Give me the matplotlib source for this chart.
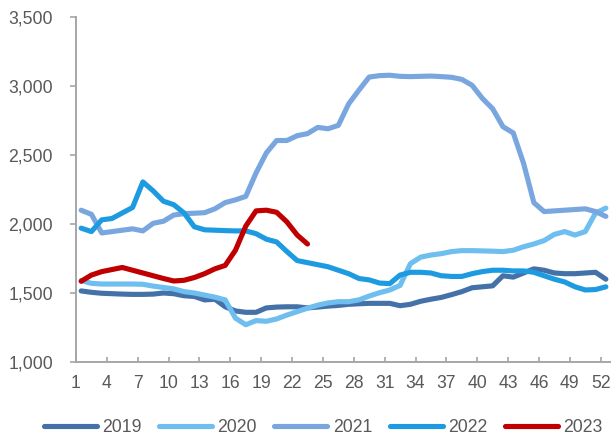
import numpy as np
import matplotlib
matplotlib.use('Agg')
import matplotlib.pyplot as plt

plt.rcParams['font.family'] = ['Liberation Sans', 'DejaVu Sans']

weeks = np.arange(1, 53)

y2019 = [1515, 1505, 1498, 1495, 1492, 1490, 1490, 1492, 1500, 1495,
         1480, 1475, 1450, 1455, 1400, 1370, 1360, 1360, 1392, 1398,
         1400, 1400, 1392, 1398, 1405, 1410, 1418, 1422, 1425, 1425,
         1425, 1408, 1418, 1440, 1455, 1468, 1488, 1510, 1538, 1545,
         1552, 1625, 1615, 1645, 1675, 1665, 1645, 1640, 1640, 1645,
         1650, 1600]
y2020 = [1590, 1570, 1565, 1565, 1565, 1565, 1563, 1550, 1540, 1530,
         1510, 1500, 1485, 1470, 1450, 1318, 1270, 1300, 1295, 1312,
         1340, 1365, 1390, 1412, 1428, 1437, 1437, 1450, 1478, 1502,
         1522, 1555, 1712, 1760, 1775, 1785, 1800, 1807, 1807, 1805,
         1803, 1800, 1810, 1835, 1855, 1880, 1925, 1945, 1920, 1945,
         2080, 2115]
y2021 = [2100, 2070, 1935, 1945, 1955, 1965, 1950, 2005, 2020, 2065,
         2075, 2078, 2082, 2110, 2155, 2175, 2200, 2370, 2515, 2605,
         2605, 2640, 2655, 2700, 2690, 2715, 2870, 2970, 3065, 3075,
         3078, 3070, 3068, 3070, 3072, 3068, 3063, 3048, 3005, 2910,
         2835, 2705, 2660, 2440, 2155, 2090, 2095, 2100, 2105, 2110,
         2090, 2055]
y2022 = [1970, 1945, 2030, 2040, 2080, 2120, 2305, 2240, 2165, 2140,
         2080, 1980, 1958, 1955, 1952, 1950, 1950, 1930, 1890, 1870,
         1800, 1735, 1720, 1705, 1690, 1665, 1640, 1605, 1595, 1572,
         1568, 1630, 1650, 1650, 1645, 1625, 1620, 1620, 1640, 1655,
         1665, 1665, 1660, 1660, 1650, 1625, 1600, 1580, 1545, 1522,
         1525, 1545]
y2023 = [1585, 1630, 1655, 1670, 1685, 1665, 1645, 1625, 1605, 1587,
         1592, 1612, 1640, 1675, 1700, 1810, 1985, 2095, 2100, 2085,
         2015, 1920, 1855]

series = [('2019', y2019, '#4472A8'),
          ('2020', y2020, '#6EBEF0'),
          ('2021', y2021, '#7AA6E0'),
          ('2022', y2022, '#1E9BE0'),
          ('2023', y2023, '#C00000')]

tick_weeks = list(range(1, 53, 3))
grey = '#595959'

fig = plt.figure(figsize=(6.11, 4.38), dpi=100)
ax = fig.add_axes([76/611, 76/438, 535/611, 345/438])

for name, vals, col in series:
    ax.plot(weeks[:len(vals)], vals, color=col, lw=3.7, label=name,
            solid_joinstyle='round', solid_capstyle='round', clip_on=False)

ax.set_xlim(0.5, 52.5)
ax.set_ylim(1000, 3500)
ax.set_xticks([w - 0.5 for w in tick_weeks])
ax.set_xticklabels([str(w) for w in tick_weeks])
ax.set_yticks(np.arange(1000, 3501, 500))
ax.set_yticklabels(['{:,}'.format(v) for v in range(1000, 3501, 500)])

for s in ['top', 'right']:
    ax.spines[s].set_visible(False)
for s in ['left', 'bottom']:
    ax.spines[s].set_color('#A6A6A6')
    ax.spines[s].set_linewidth(1.4)

ax.tick_params(axis='x', direction='in', length=3.8, width=1.2, color='#A6A6A6',
               labelsize=12.7, labelcolor=grey, pad=9)
ax.tick_params(axis='y', direction='out', length=4.5, width=1.2, color='#A6A6A6',
               labelsize=12.7, labelcolor=grey, pad=12)

leg = fig.legend(loc='center', bbox_to_anchor=(323/611, 1 - 428/438), ncol=5,
                 frameon=False, fontsize=12.7, handlelength=3.0,
                 handletextpad=0.3, columnspacing=1.0, labelcolor=grey)

fig.savefig('out.png', dpi=100)
